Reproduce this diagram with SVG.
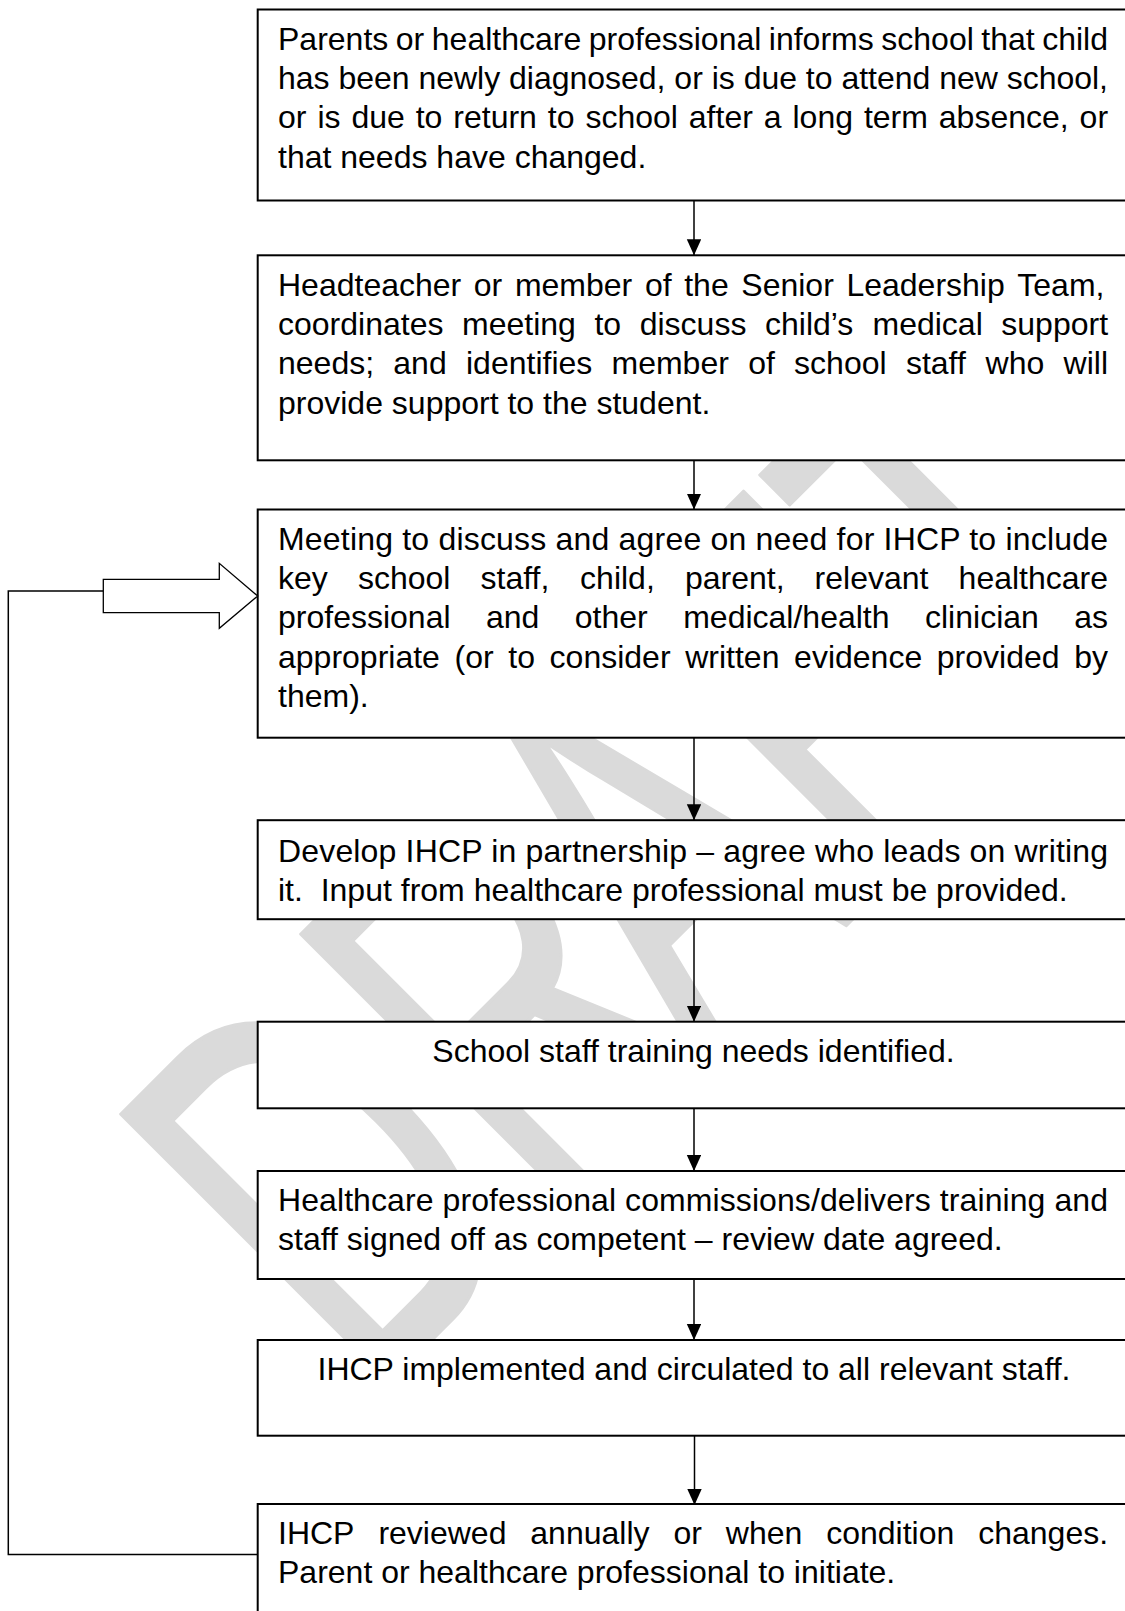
<svg xmlns="http://www.w3.org/2000/svg" width="1125" height="1611" viewBox="0 0 1125 1611">
<defs>
<style>
.box{fill:#ffffff;stroke:#000000;stroke-width:2}
.t{font-family:"Liberation Sans",Arial,sans-serif;font-size:32px;fill:#000000}
.c{text-anchor:middle}
.conn{stroke:#000000;stroke-width:1.5;fill:none}
.wm{font-family:"Liberation Sans",Arial,sans-serif;font-size:100px;fill:#dadada;stroke:#dadada;stroke-width:0.6;stroke-linejoin:round}
</style>
<marker id="ah" markerUnits="userSpaceOnUse" markerWidth="16" markerHeight="15" refX="16" refY="7.2" orient="auto">
<path d="M0,0 L16,7.2 L0,14.4 Z" fill="#000000"/>
</marker>
</defs>
<rect x="0" y="0" width="1125" height="1611" fill="#ffffff"/>
<g id="watermark">
<text class="wm" transform="translate(368.4,1403.4) rotate(-45) scale(3.525,5.517)" x="0" y="0">DR<tspan x="134.6">AFT</tspan></text>
</g>
<g id="node1">
<rect class="box" x="257.7" y="9.5" width="880" height="191"/>
<text class="t"><tspan x="278" y="50">Parents</tspan><tspan x="395.8" y="50">or</tspan><tspan x="431.8" y="50">healthcare</tspan><tspan x="588.8" y="50">professional</tspan><tspan x="768.8" y="50">informs</tspan><tspan x="881.3" y="50">school</tspan><tspan x="981.3" y="50">that</tspan><tspan x="1042.2" y="50">child</tspan></text>
<text class="t" x="278" y="89.2" textLength="830" lengthAdjust="spacing">has been newly diagnosed, or is due to attend new school,</text>
<text class="t"><tspan x="278" y="128.4">or</tspan><tspan x="317.4" y="128.4">is</tspan><tspan x="351.4" y="128.4">due</tspan><tspan x="415.7" y="128.4">to</tspan><tspan x="453.3" y="128.4">return</tspan><tspan x="547.8" y="128.4">to</tspan><tspan x="585.4" y="128.4">school</tspan><tspan x="688.8" y="128.4">after</tspan><tspan x="763.8" y="128.4">a</tspan><tspan x="792.5" y="128.4">long</tspan><tspan x="863.9" y="128.4">term</tspan><tspan x="938.8" y="128.4">absence,</tspan><tspan x="1079.6" y="128.4">or</tspan></text>
<text class="t" x="278" y="167.6">that needs have changed.</text>
</g>
<g id="node2">
<rect class="box" x="257.7" y="255.3" width="880" height="205"/>
<text class="t"><tspan x="278" y="296">Headteacher</tspan><tspan x="473.8" y="296">or</tspan><tspan x="514.9" y="296">member</tspan><tspan x="644.9" y="296">of</tspan><tspan x="684.2" y="296">the</tspan><tspan x="741.3" y="296">Senior</tspan><tspan x="846.4" y="296">Leadership</tspan><tspan x="1017.3" y="296">Team,</tspan></text>
<text class="t"><tspan x="278" y="335.2">coordinates</tspan><tspan x="462" y="335.2">meeting</tspan><tspan x="594.4" y="335.2">to</tspan><tspan x="639.7" y="335.2">discuss</tspan><tspan x="765" y="335.2">child’s</tspan><tspan x="872.5" y="335.2">medical</tspan><tspan x="1001.3" y="335.2">support</tspan></text>
<text class="t"><tspan x="278" y="374.4">needs;</tspan><tspan x="393.3" y="374.4">and</tspan><tspan x="466" y="374.4">identifies</tspan><tspan x="611.5" y="374.4">member</tspan><tspan x="748.2" y="374.4">of</tspan><tspan x="794.1" y="374.4">school</tspan><tspan x="905.9" y="374.4">staff</tspan><tspan x="985.6" y="374.4">who</tspan><tspan x="1063.6" y="374.4">will</tspan></text>
<text class="t" x="278" y="413.6">provide support to the student.</text>
</g>
<g id="node3">
<rect class="box" x="257.7" y="509.5" width="880" height="228.2"/>
<text class="t" x="278" y="550" textLength="830" lengthAdjust="spacing">Meeting to discuss and agree on need for IHCP to include</text>
<text class="t"><tspan x="278" y="589.2">key</tspan><tspan x="357.9" y="589.2">school</tspan><tspan x="480.5" y="589.2">staff,</tspan><tspan x="580.1" y="589.2">child,</tspan><tspan x="684.9" y="589.2">parent,</tspan><tspan x="814.6" y="589.2">relevant</tspan><tspan x="958.6" y="589.2">healthcare</tspan></text>
<text class="t"><tspan x="278" y="628.4">professional</tspan><tspan x="486" y="628.4">and</tspan><tspan x="574.8" y="628.4">other</tspan><tspan x="683.2" y="628.4">medical/health</tspan><tspan x="925" y="628.4">clinician</tspan><tspan x="1074.2" y="628.4">as</tspan></text>
<text class="t"><tspan x="278" y="667.6">appropriate</tspan><tspan x="454.5" y="667.6">(or</tspan><tspan x="508.3" y="667.6">to</tspan><tspan x="549.6" y="667.6">consider</tspan><tspan x="685.2" y="667.6">written</tspan><tspan x="794.1" y="667.6">evidence</tspan><tspan x="936.8" y="667.6">provided</tspan><tspan x="1074.2" y="667.6">by</tspan></text>
<text class="t" x="278" y="706.8">them).</text>
</g>
<g id="node4">
<rect class="box" x="257.7" y="820.2" width="880" height="99"/>
<text class="t" x="278" y="861.5" textLength="830" lengthAdjust="spacing">Develop IHCP in partnership – agree who leads on writing</text>
<text class="t" x="278" y="900.7">it.&#160; Input from healthcare professional must be provided.</text>
</g>
<g id="node5">
<rect class="box" x="257.7" y="1021.7" width="880" height="86.6"/>
<text class="t c" x="693.5" y="1062">School staff training needs identified.</text>
</g>
<g id="node6">
<rect class="box" x="257.7" y="1171" width="880" height="108"/>
<text class="t" x="278" y="1210.8" textLength="830" lengthAdjust="spacing">Healthcare professional commissions/delivers training and</text>
<text class="t" x="278" y="1250">staff signed off as competent – review date agreed.</text>
</g>
<g id="node7">
<rect class="box" x="257.7" y="1340" width="880" height="95.7"/>
<text class="t c" x="694" y="1379.6">IHCP implemented and circulated to all relevant staff.</text>
</g>
<g id="node8">
<rect class="box" x="257.7" y="1504" width="880" height="120"/>
<text class="t"><tspan x="278" y="1543.8">IHCP</tspan><tspan x="378.4" y="1543.8">reviewed</tspan><tspan x="530.3" y="1543.8">annually</tspan><tspan x="673.4" y="1543.8">or</tspan><tspan x="725.8" y="1543.8">when</tspan><tspan x="826.2" y="1543.8">condition</tspan><tspan x="978.2" y="1543.8">changes.</tspan></text>
<text class="t" x="278" y="1583.2">Parent or healthcare professional to initiate.</text>
</g>
<g id="connectors">
<line class="conn" x1="694" y1="200.5" x2="694" y2="255.3" marker-end="url(#ah)"/>
<line class="conn" x1="694" y1="460.3" x2="694" y2="509.5" marker-end="url(#ah)"/>
<line class="conn" x1="694" y1="737.7" x2="694" y2="820.2" marker-end="url(#ah)"/>
<line class="conn" x1="694" y1="919.2" x2="694" y2="1021.7" marker-end="url(#ah)"/>
<line class="conn" x1="694" y1="1108.3" x2="694" y2="1171" marker-end="url(#ah)"/>
<line class="conn" x1="694" y1="1279" x2="694" y2="1340" marker-end="url(#ah)"/>
<line class="conn" x1="694.5" y1="1435.7" x2="694.5" y2="1505" marker-end="url(#ah)"/>
<polyline class="conn" points="257.7,1554.5 8.3,1554.5 8.3,591 103.3,591"/>
<polygon points="103.3,579.3 219.3,579.3 219.3,563.3 257.7,596 219.3,628.3 219.3,612.7 103.3,612.7" fill="#ffffff" stroke="#000000" stroke-width="1.3"/>
</g>
</svg>
